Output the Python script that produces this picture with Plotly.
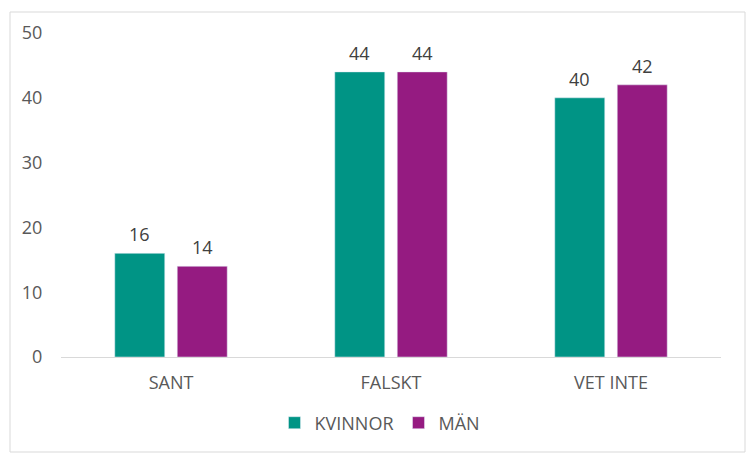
import plotly.graph_objects as go

categories = ["SANT", "FALSKT", "VET INTE"]
kvinnor = [16, 44, 40]
man = [14, 44, 42]
series_names = ["KVINNOR", "MÄN"]
y_ticks = [0, 10, 20, 30, 40, 50]

TEAL = "#009485"
PURPLE = "#951B81"
FONT = "Open Sans"
FS = 18

L, R, T, B = 61, 721, 33, 357
W, H = R - L, B - T

def px(x):
    return (x - L) / W

def py(y):
    return (B - y) / H

fig = go.Figure()
annotations = []
offsets = [-31.25, 31.25]
for i, (name, vals, col) in enumerate([(series_names[0], kvinnor, TEAL), (series_names[1], man, PURPLE)]):
    fig.add_trace(go.Bar(x=categories, y=vals, name=name, marker_color=col))
    for c, v in zip(categories, vals):
        annotations.append(dict(x=c, y=v, xref="x", yref="y", text=str(v), showarrow=False,
                                xshift=offsets[i], yanchor="bottom", yshift=5,
                                font=dict(family=FONT, size=FS, color="#404040")))

fig.update_layout(
    width=755, height=463,
    margin=dict(l=L, r=755 - R, t=T, b=463 - B),
    paper_bgcolor="white", plot_bgcolor="white",
    barmode="group", bargap=0.432, bargroupgap=0.2,
    font=dict(family=FONT, size=FS, color="#595959"),
    showlegend=True,
    legend=dict(orientation="h", x=px(380), xanchor="center", y=py(423), yanchor="middle",
                font=dict(family=FONT, size=FS, color="#595959"),
                traceorder="normal"),
    xaxis=dict(showline=True, linecolor="#D9D9D9", linewidth=1, showgrid=False,
               ticks="outside", ticklen=9, tickcolor="rgba(0,0,0,0)",
               tickfont=dict(family=FONT, size=FS, color="#595959")),
    yaxis=dict(range=[0, 50], tickvals=y_ticks, showgrid=False, showline=False,
               zeroline=False, ticks="outside", ticklen=14, tickcolor="rgba(0,0,0,0)",
               tickfont=dict(family=FONT, size=FS, color="#595959")),
    annotations=annotations,
    shapes=[dict(type="rect", xref="paper", yref="paper",
                 x0=px(10), x1=px(745), y0=py(452), y1=py(12),
                 line=dict(color="#D9D9D9", width=1), fillcolor="rgba(0,0,0,0)", layer="below")],
)

fig.write_html("out.html", config={"displayModeBar": False},
               post_script="document.body.style.margin='0';")
